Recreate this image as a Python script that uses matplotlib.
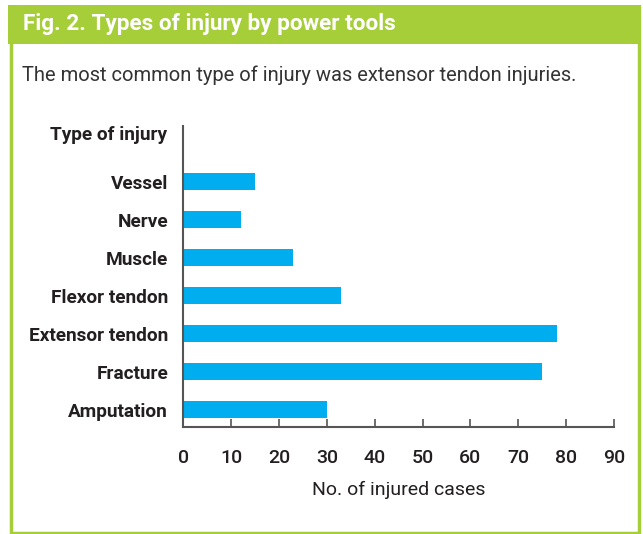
import matplotlib.pyplot as plt
from matplotlib.patches import Rectangle

injury_types = ["Amputation", "Fracture", "Extensor tendon", "Flexor tendon",
                "Muscle", "Nerve", "Vessel"]
cases = [30, 75, 78, 33, 23, 12, 15]
x_ticks = [0, 10, 20, 30, 40, 50, 60, 70, 80, 90]

plt.rcParams['font.family'] = ["Roboto", "DejaVu Sans"]

green = "#a6ce39"
blue = "#00aeef"
dark = "#231f20"

W, H = 643, 534
fig = plt.figure(figsize=(W / 100, H / 100), dpi=100)

# frame and header band
fig.patches.append(Rectangle((10.5 / W, 1 - 532.5 / H), 628 / W, 526 / H,
                             transform=fig.transFigure, fill=False,
                             edgecolor=green, linewidth=2.5))
fig.patches.append(Rectangle((8 / W, 1 - 44 / H), 633 / W, 39 / H,
                             transform=fig.transFigure, facecolor=green,
                             edgecolor="none"))
fig.text(23 / W, 1 - 24 / H, "Fig. 2. Types of injury by power tools",
         color="white", fontsize=16.2, fontweight="bold", va="center")
fig.text(22 / W, 1 - 75 / H,
         "The most common type of injury was extensor tendon injuries.",
         color="#333333", fontsize=14.5, va="center")

ax = fig.add_axes([183.3 / W, 1 - 427 / H, (614 - 183.3) / W, (427 - 126) / H])
pos = list(range(len(injury_types)))
ax.barh(pos, cases, height=0.45, color=blue)
ax.set_xlim(0, 90)
ax.set_ylim(-0.46, 7.47)
ax.set_xticks(x_ticks)
ax.set_xticklabels([str(t) for t in x_ticks], fontsize=14, fontweight="medium",
                   color=dark)
ax.set_yticks(pos)
ax.set_yticklabels(injury_types, fontsize=13.7, fontweight="bold", color=dark)
ax.tick_params(axis="y", length=0, pad=11)
ax.tick_params(axis="x", direction="in", length=6, width=1.2, color="#555555", pad=16)
for s in ["top", "right"]:
    ax.spines[s].set_visible(False)
for s in ["left", "bottom"]:
    ax.spines[s].set_color("#555555")
    ax.spines[s].set_linewidth(1.5)
ax.set_xlabel("No. of injured cases", fontsize=14, color=dark, labelpad=9.5)
ax.text(-16 / 4.786, 7.23, "Type of injury", fontsize=13.7, fontweight="bold",
        color=dark, ha="right", va="center")

fig.savefig("out.png", dpi=100)
